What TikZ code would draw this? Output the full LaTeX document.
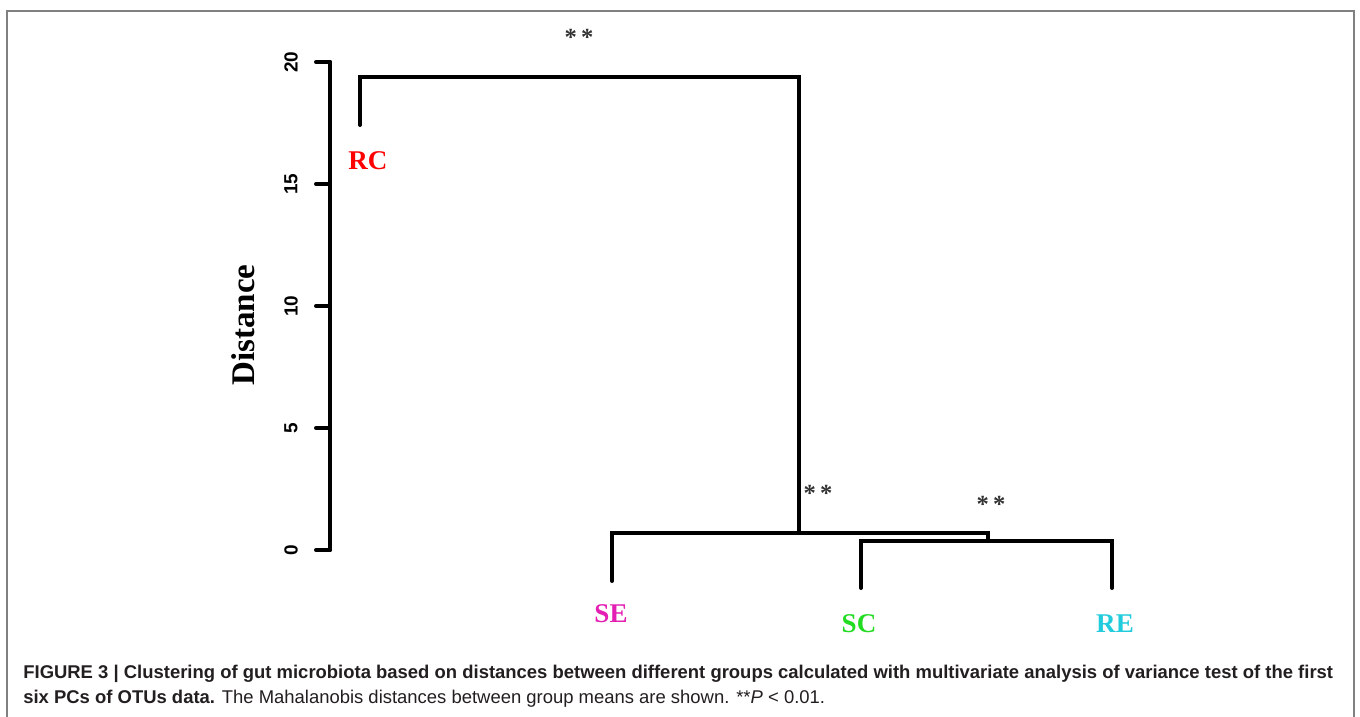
\documentclass[tikz,border=0pt]{standalone}
\usepackage{fontspec}
\setmainfont{Liberation Serif}
\setsansfont{Liberation Sans}
\usetikzlibrary{calc}
\definecolor{rccol}{RGB}{255,0,0}
\definecolor{secol}{RGB}{228,32,180}
\definecolor{sccol}{RGB}{34,220,34}
\definecolor{recol}{RGB}{34,204,221}
\definecolor{framegray}{RGB}{128,128,128}
\definecolor{stargray}{RGB}{51,51,51}
\definecolor{captext}{RGB}{35,31,32}
\tikzset{
	branch/.style={line width=0.8mm, line cap=round, line join=miter},
	leaflab/.style={inner sep=0pt, font=\bfseries\fontsize{15.4}{18}\selectfont},
	ticklab/.style={rotate=90, inner sep=0pt, font=\sffamily\bfseries\fontsize{10.8}{12}\selectfont},
	signif/.style={anchor=base, inner sep=0pt, text=stargray, font=\bfseries\fontsize{14}{16}\selectfont},
	caption/.style={anchor=base west, inner sep=0pt, text=captext, font=\sffamily\fontsize{10.5}{13}\selectfont},
}

\begin{document}
\begin{tikzpicture}[x=0.02cm, y=-0.02cm]
		%%%%% START %%%%%
		
		\useasboundingbox (0, 0) rectangle (1360, 717);
		\fill[white] (0, 0) rectangle (1360, 717);
		\draw[framegray, line width=0.4mm] (7, 717) -- (7, 11) -- (1354, 11) -- (1354, 717);
		
		% axis
		\draw[branch] (330, 62) -- (330, 550);
		\foreach \v in {0, 5, 10, 15, 20} {
			\draw[branch] (316, {550-24.4*\v}) -- (330, {550-24.4*\v});
			\node[ticklab] (tick\v) at (291, {550-24.4*\v}) {\v};
		}
		\node[rotate=90, inner sep=0pt, font=\bfseries\fontsize{18.8}{22}\selectfont] (ylab) at (243, 325) {Distance};
		
		% leaves and merges
		\coordinate (rctip) at (360, 125);
		\coordinate (setip) at (612, 581);
		\coordinate (sctip) at (861, 588);
		\coordinate (retip) at (1112, 588);
		\coordinate (scre) at (988, 541);
		\coordinate (sescre) at (799, 533);
		\coordinate (root) at (799, 77);
		
		\draw[branch] (sctip) |- (scre) -| (retip);
		\draw[branch] (setip) |- (sescre) -| (scre);
		\draw[branch] (rctip) |- (root) -- (sescre);
		
		\node[leaflab, text=rccol] (rc) at (368, 161) {RC};
		\node[leaflab, text=secol] (se) at (611, 614) {SE};
		\node[leaflab, text=sccol] (sc) at (859, 624) {SC};
		\node[leaflab, text=recol] (re) at (1115, 624) {RE};
		
		\node[signif] (sigroot) at (579, 45) {*\,*};
		\node[signif] (sigmid) at (818, 501) {*\,*};
		\node[signif] (sigscre) at (991, 512) {*\,*};
		
		% caption
		\node[caption] (capone) at (23, 678) {\makebox[26.2cm][s]{\bfseries FIGURE 3 | Clustering of gut microbiota based on distances between different groups calculated with multivariate analysis of variance test of the first}};
		\node[caption] (captwo) at (23, 703) {\textbf{six PCs of OTUs data.} The Mahalanobis distances between group means are shown. **\textit{P} < 0.01.};
		
		%%%%% END %%%%%
	\end{tikzpicture}
\end{document}
